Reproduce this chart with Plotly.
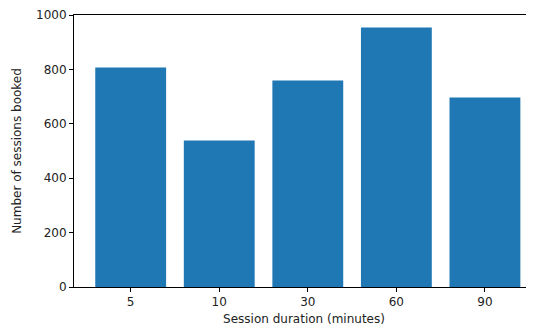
import plotly.graph_objects as go

durations = ["5", "10", "30", "60", "90"]
sessions = [807, 539, 759, 954, 697]

fig = go.Figure(go.Bar(x=durations, y=sessions, marker_color="#1f77b4",
                       marker_line_width=0, width=0.8))

font = dict(family="DejaVu Sans", size=12, color="#222")
fig.update_layout(
    width=526, height=321,
    margin=dict(l=66, r=0, t=7, b=41.5),
    plot_bgcolor="white", paper_bgcolor="white",
    font=font, showlegend=False,
    bargap=0.2,
)
fig.update_xaxes(
    type="category", range=[-0.64, 4.554], automargin=False,
    showline=True, linecolor="black", linewidth=1, mirror=True,
    ticks="outside", ticklen=4, tickcolor="black", showgrid=False,
    title=dict(text="Session duration (minutes)", standoff=6, font=font),
)
fig.update_yaxes(
    range=[0, 1000], tickvals=[0, 200, 400, 600, 800, 1000], automargin=False,
    showline=True, linecolor="black", linewidth=1,
    ticks="outside", ticklen=4, tickcolor="black", showgrid=False, zeroline=False,
    title=dict(text="Number of sessions booked", standoff=11, font=font),
)
fig.write_html("out.html")
